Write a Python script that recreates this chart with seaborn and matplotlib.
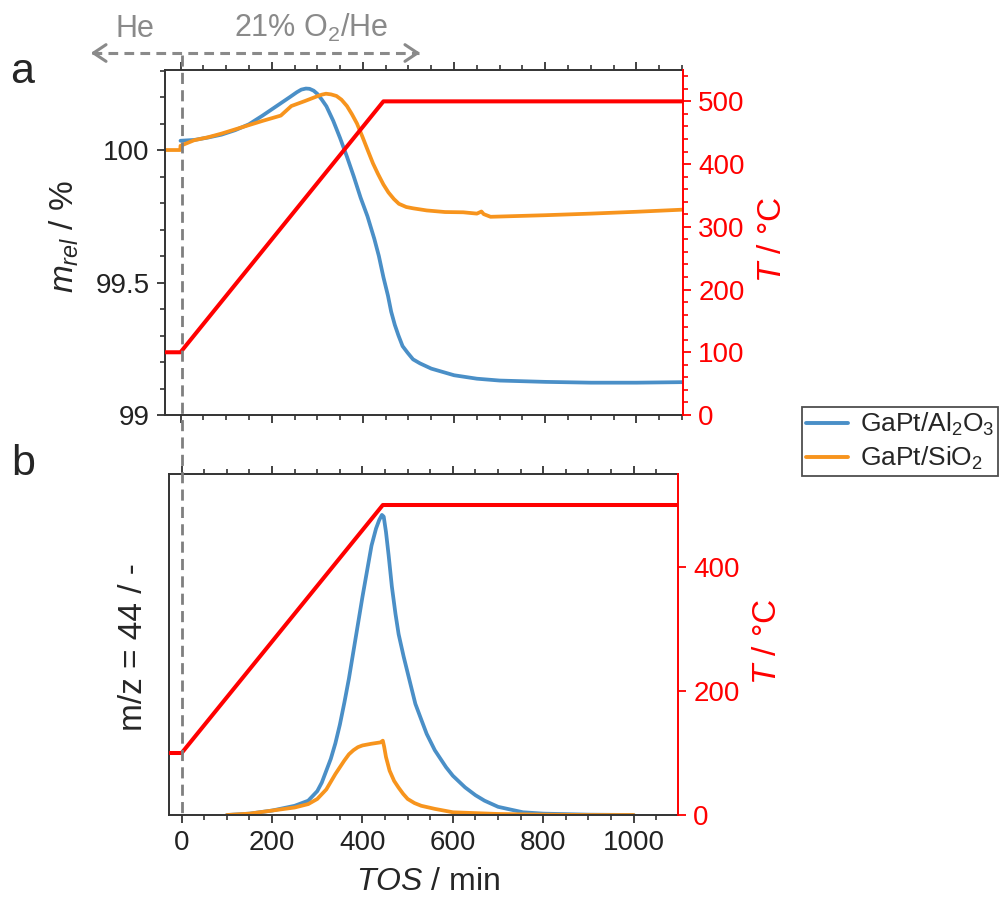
import numpy as np
import pandas as pd
import matplotlib
matplotlib.use("Agg")
import matplotlib.pyplot as plt
import matplotlib.transforms as mtransforms
from matplotlib.lines import Line2D
from matplotlib.ticker import MultipleLocator, FixedLocator, NullLocator
import seaborn as sns

# ---------------- data ----------------
# panel a: relative mass (%) vs TOS (min)
tos_a_al = [0, 30, 60, 90, 120, 150, 180, 210, 240, 255, 265, 275, 283, 292, 300, 310,
            320, 335, 350, 365, 380, 395, 410, 425, 435, 445, 455, 462, 470, 478, 487,
            498, 510, 525, 550, 600, 650, 700, 800, 900, 1000, 1102]
mrel_al = [100.035, 100.038, 100.047, 100.058, 100.075, 100.097, 100.13, 100.165, 100.2,
           100.218, 100.228, 100.232, 100.231, 100.224, 100.212, 100.19, 100.165, 100.11,
           100.045, 99.975, 99.90, 99.82, 99.75, 99.665, 99.60, 99.52, 99.45, 99.39,
           99.34, 99.30, 99.26, 99.235, 99.21, 99.195, 99.175, 99.15, 99.137, 99.13,
           99.125, 99.122, 99.122, 99.124]

tos_a_si = [-34, -0.5, 0, 30, 60, 90, 120, 150, 180, 220, 243, 273, 300, 310, 319, 330,
            342, 353, 365, 376, 387, 399, 411, 422, 433, 445, 456, 468, 479, 495, 510,
            540, 580, 620, 650, 660, 665, 680, 720, 800, 900, 1000, 1102]
mrel_si = [100.0, 100.0, 100.016, 100.037, 100.048, 100.062, 100.078, 100.094, 100.11,
           100.13, 100.166, 100.185, 100.203, 100.209, 100.2125, 100.21, 100.204, 100.19,
           100.166, 100.135, 100.10, 100.05, 99.9975, 99.95, 99.91, 99.87, 99.84, 99.815,
           99.797, 99.785, 99.78, 99.772, 99.766, 99.765, 99.76, 99.768, 99.758, 99.748,
           99.75, 99.754, 99.76, 99.767, 99.775]

tos_T_a = [-34, 0, 445, 1102]
temp_a = [100, 100, 500, 500]

# panel b: m/z = 44 signal (arbitrary units) vs TOS (min)
tos_b_al = [100, 150, 200, 250, 280, 300, 310, 320, 330, 340, 350, 360, 370, 380, 390,
            400, 410, 420, 430, 437, 443, 447, 452, 458, 465, 473, 480, 491, 505, 517,
            530, 542, 560, 585, 600, 627, 650, 670, 700, 755, 800, 900, 1000]
ms_al = [0.0, 0.004, 0.013, 0.027, 0.042, 0.07, 0.095, 0.13, 0.165, 0.21, 0.265, 0.33,
         0.40, 0.48, 0.56, 0.64, 0.715, 0.79, 0.84, 0.865, 0.88, 0.875, 0.83, 0.76, 0.67,
         0.59, 0.53, 0.465, 0.39, 0.326, 0.28, 0.238, 0.19, 0.14, 0.115, 0.081, 0.058,
         0.042, 0.024, 0.008, 0.004, 0.001, 0.0]

tos_b_si = [100, 150, 200, 250, 280, 300, 320, 340, 350, 360, 370, 380, 390, 400, 420,
            440, 445, 448, 452, 460, 470, 480, 490, 500, 515, 530, 560, 600, 700, 800,
            900, 1000]
ms_si = [0.0, 0.004, 0.013, 0.022, 0.032, 0.047, 0.075, 0.12, 0.14, 0.16, 0.178, 0.19,
         0.199, 0.204, 0.209, 0.213, 0.218, 0.2, 0.17, 0.13, 0.10, 0.08, 0.062, 0.047,
         0.035, 0.027, 0.018, 0.008, 0.003, 0.001, 0.0, 0.0]

tos_T_b = [-28, 0, 445, 1098]
temp_b = [100, 100, 500, 500]

labels = ["GaPt/Al$_\\mathrm{2}$O$_\\mathrm{3}$", "GaPt/SiO$_\\mathrm{2}$"]
xticks = [0, 200, 400, 600, 800, 1000]

# ---------------- style ----------------
sns.set_theme(style="ticks")
plt.rcParams["font.family"] = ["Liberation Sans", "DejaVu Sans"]
plt.rcParams["mathtext.fontset"] = "custom"
plt.rcParams["mathtext.rm"] = "Liberation Sans"
plt.rcParams["mathtext.it"] = "Liberation Sans:italic"
plt.rcParams["mathtext.bf"] = "Liberation Sans:bold"
plt.rcParams["lines.scale_dashes"] = False

BLUE = "#4a8fc7"
ORANGE = "#f7941d"
RED = "#ff0000"
DARK = "#333333"
GRAY = "#8a8a8a"
LW = 2.7
LW_T = 2.9

W, H = 1005, 902
fig = plt.figure(figsize=(W / 100, H / 100), dpi=100)


def box(l, t, r, b):
    return [l / W, 1 - b / H, (r - l) / W, (b - t) / H]


ax_a = fig.add_axes(box(165, 70, 683, 415))
ax_b = fig.add_axes(box(169, 474, 678, 815))

# ---------------- panel a ----------------
sns.lineplot(x=tos_a_al, y=mrel_al, ax=ax_a, color=BLUE, lw=LW, label=labels[0],
             errorbar=None, sort=False)
sns.lineplot(x=tos_a_si, y=mrel_si, ax=ax_a, color=ORANGE, lw=LW, label=labels[1],
             errorbar=None, sort=False)
ax_a.set_xlim(-34, 1102)
ax_a.set_ylim(99, 100.302)
ax_a.yaxis.set_major_locator(FixedLocator([99, 99.5, 100]))
ax_a.yaxis.set_major_formatter(matplotlib.ticker.FixedFormatter(["99", "99.5", "100"]))
ax_a.yaxis.set_minor_locator(MultipleLocator(0.1))
ax_a.xaxis.set_major_locator(FixedLocator(xticks))
ax_a.xaxis.set_minor_locator(MultipleLocator(50))
ax_a.tick_params(axis="x", which="both", top=True, bottom=True, labelbottom=False,
                 direction="out")
ax_a.set_xlabel("")
ax_a.set_ylabel("")

ta = ax_a.twinx()
sns.lineplot(x=tos_T_a, y=temp_a, ax=ta, color=RED, lw=LW_T, errorbar=None, sort=False)
ta.set_ylim(0, 550)
ta.yaxis.set_major_locator(MultipleLocator(100))
ta.yaxis.set_minor_locator(MultipleLocator(20))
ta.set_ylabel("")

# ---------------- panel b ----------------
sns.lineplot(x=tos_b_al, y=ms_al, ax=ax_b, color=BLUE, lw=LW, errorbar=None, sort=False)
sns.lineplot(x=tos_b_si, y=ms_si, ax=ax_b, color=ORANGE, lw=LW, errorbar=None, sort=False)
ax_b.set_xlim(-28, 1098)
ax_b.set_ylim(0, 1.0)
ax_b.yaxis.set_major_locator(NullLocator())
ax_b.yaxis.set_minor_locator(NullLocator())
ax_b.xaxis.set_major_locator(FixedLocator(xticks))
ax_b.xaxis.set_minor_locator(MultipleLocator(50))
ax_b.tick_params(axis="x", which="both", top=True, bottom=True, direction="out")
ax_b.set_xlabel("")
ax_b.set_ylabel("")

tb = ax_b.twinx()
sns.lineplot(x=tos_T_b, y=temp_b, ax=tb, color=RED, lw=LW_T, errorbar=None, sort=False)
tb.set_ylim(0, 550)
tb.yaxis.set_major_locator(FixedLocator([0, 200, 400]))
tb.yaxis.set_minor_locator(NullLocator())
tb.set_ylabel("")

# ---------------- common axis styling ----------------
for ax in (ax_a, ax_b):
    for s in ("left", "top", "bottom"):
        ax.spines[s].set_visible(True)
        ax.spines[s].set_color(DARK)
        ax.spines[s].set_linewidth(1.4)
    ax.spines["right"].set_visible(False)
    ax.tick_params(which="major", length=6, width=1.3, color=DARK, labelsize=20,
                   labelcolor="#222222", pad=5)
    ax.tick_params(which="minor", length=3.5, width=1.2, color=DARK)
    leg = ax.get_legend()
    if leg is not None:
        leg.remove()

for t in (ta, tb):
    for s in ("left", "top", "bottom"):
        t.spines[s].set_visible(False)
    t.spines["right"].set_visible(True)
    t.spines["right"].set_color(RED)
    t.spines["right"].set_linewidth(1.4)
    t.tick_params(axis="y", which="major", length=6, width=1.3, color=RED,
                  labelcolor=RED, labelsize=20, pad=5)
    t.tick_params(axis="y", which="minor", length=3.5, width=1.2, color=RED)

# ---------------- axis labels (figure text, pixel-placed) ----------------
def ftext(x, y, s, **kw):
    fig.text(x / W, 1 - y / H, s, **kw)

ftext(64, 237, "$m_{rel}$ / %", rotation=90, ha="center", va="center", fontsize=24)
ftext(133, 647, "m/z = 44 / -", rotation=90, ha="center", va="center", fontsize=24)
ftext(772, 240, "$T$ / °C", rotation=90, ha="center", va="center", fontsize=24, color=RED)
ftext(767, 642, "$T$ / °C", rotation=90, ha="center", va="center", fontsize=24, color=RED)
ftext(428, 882, "$TOS$ / min", ha="center", va="center", fontsize=23)
ftext(22, 72, "a", ha="center", va="center", fontsize=31)
ftext(23, 464, "b", ha="center", va="center", fontsize=31)

# gas atmosphere annotation
ftext(135, 37, "He", ha="center", va="baseline", fontsize=22, color=GRAY)
ftext(311, 37, "21% O$_\\mathrm{2}$/He", ha="center", va="baseline", fontsize=22, color=GRAY)
ya = 1 - 53 / H
fig.add_artist(Line2D([92 / W, 419 / W], [ya, ya], transform=fig.transFigure,
                      color=GRAY, lw=2.2, dashes=(7, 4.5)))
for x_tip, x_tail in ((88, 100), (423, 411)):
    fig.patches.append(matplotlib.patches.FancyArrowPatch(
        (x_tail / W, ya), (x_tip / W, ya), transform=fig.transFigure,
        arrowstyle="->,head_length=0.45,head_width=0.3", mutation_scale=20,
        color=GRAY, lw=2.2))

# vertical dashed line at TOS = 0 through both panels
trans = mtransforms.blended_transform_factory(ax_b.transData, fig.transFigure)
fig.add_artist(Line2D([0, 0], [1 - 55 / H, 1 - 817 / H], transform=trans,
                      color="#7f7f7f", lw=2.0, dashes=(8, 4.5)))

# legend
handles = [Line2D([], [], color=BLUE, lw=2.8), Line2D([], [], color=ORANGE, lw=2.8)]
lg = fig.legend(handles, labels, loc="upper left", bbox_to_anchor=(802 / W, 1 - 407 / H),
                bbox_transform=fig.transFigure, fontsize=19, frameon=True, fancybox=False,
                borderaxespad=0, borderpad=0.15, handlelength=1.6, handletextpad=0.45,
                labelspacing=0.25)
lg.get_frame().set_edgecolor("#222222")
lg.get_frame().set_linewidth(1.3)

fig.savefig("out.png", dpi=100)
